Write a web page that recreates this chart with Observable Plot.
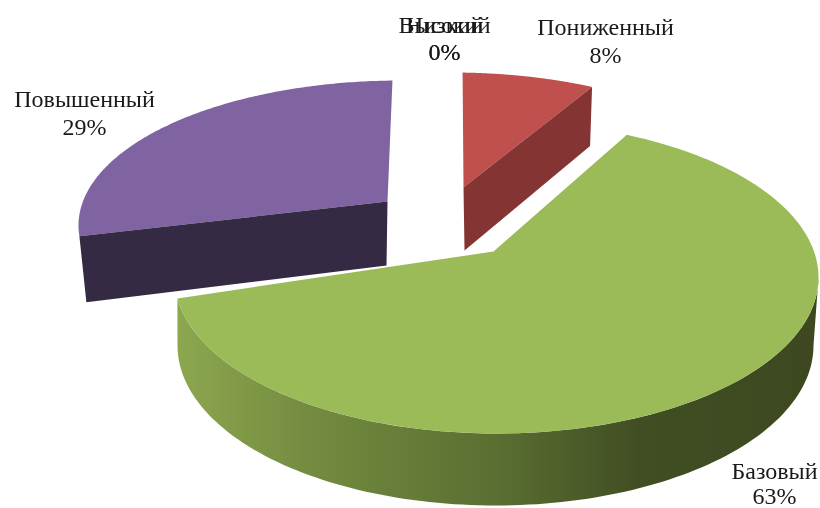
<!DOCTYPE html>
<html><head><meta charset="utf-8">
<script src="https://cdn.jsdelivr.net/npm/d3@7"></script>
<script src="https://cdn.jsdelivr.net/npm/@observablehq/plot@0.6"></script>
<style>html,body{margin:0;padding:0;background:#fff}svg{display:block;filter:blur(0.45px)}</style>
</head><body><div id="chart"></div>
<script>
// Data
const categories = ["Низкий", "Пониженный", "Базовый", "Повышенный", "Высокий"];
const shares = [0, 8, 63, 29, 0];
const percentLabels = ["0%", "8%", "63%", "29%", "0%"];

// Drawing style
const topColors = ["#4f81bd", "#c0504d", "#9bbb59", "#8064a2", "#4bacc6"];
const cutColors = [null, "#843432", null, "#352a44", null];

// Exploded-slice geometry of the tilted disc (one entry per visible slice)
const geometry = {
  "Пониженный": {apex:[463,187], c:[452,205], rx:308, ry:133, aspect:[2.34,2.34], shear:-0.008,
    cut:{edge:"end", apex:[1,63], rim:[-2,59]}},
  "Базовый": {apex:[493,251], c:[496,277], rx:322, ry:156, aspect:[2.08,1.73], shear:0},
  "Повышенный": {apex:[387,201], c:[400,225], rx:322, ry:145, aspect:[2.26,2.26], shear:0.041,
    cut:{edge:"start", apex:[-1,64], rim:[7,66]}}
};
const greenBottom = {c:[495,345], rx:318, ry:160};

// Label placement
const labelX = [444, 605, 774, 84, 444];
const labelY = [25, 27, 471, 99, 25];
const labelY2 = [52, 55, 496, 127, 52];

// Angles from the values
const total = d3.sum(shares);
let acc = 0;
const slices = categories.map((name, i) => {
  const a0 = acc / total * 2 * Math.PI; acc += shares[i];
  return {name, i, a0, a1: acc / total * 2 * Math.PI};
});
function rim(g, a, t) {
  const k = g.aspect[0] + (g.aspect[1] - g.aspect[0]) * t;
  const dx = k * Math.sin(a) + g.shear * Math.cos(a), dy = -Math.cos(a);
  const ox = (g.apex[0] - g.c[0]) / g.rx, oy = (g.apex[1] - g.c[1]) / g.ry;
  const ux = dx / g.rx, uy = dy / g.ry;
  const A = ux*ux + uy*uy, B = 2*(ox*ux + oy*uy), C = ox*ox + oy*oy - 1;
  const s = (-B + Math.sqrt(B*B - 4*A*C)) / (2*A);
  return [g.apex[0] + s*dx, g.apex[1] + s*dy];
}
const toPts = arr => arr.map(([x,y]) => ({x,y}));
function face(s, g) {
  const n = 160, pts = [g.apex];
  for (let j = 0; j <= n; j++) pts.push(rim(g, s.a0 + (s.a1 - s.a0) * j / n, j / n));
  return toPts(pts);
}
function cut(s, g) {
  const end = g.cut.edge === "end";
  const r = rim(g, end ? s.a1 : s.a0, end ? 1 : 0);
  return toPts([g.apex, r, [r[0]+g.cut.rim[0], r[1]+g.cut.rim[1]],
    [g.apex[0]+g.cut.apex[0], g.apex[1]+g.cut.apex[1]]]);
}
const green = slices[2], gg = geometry["Базовый"];
function greenSide() {
  const corner = rim(gg, green.a1, 1);
  const phiC = Math.atan2((corner[1]-gg.c[1])/gg.ry, (corner[0]-gg.c[0])/gg.rx);
  const pts = [], n = 120;
  for (let j = 0; j <= n; j++) { const p = phiC * j / n;
    pts.push([gg.c[0]+gg.rx*Math.cos(p), gg.c[1]+gg.ry*Math.sin(p)]); }
  for (let j = n; j >= 0; j--) { const p = Math.PI * j / n;
    pts.push([greenBottom.c[0]+greenBottom.rx*Math.cos(p), greenBottom.c[1]+greenBottom.ry*Math.sin(p)]); }
  return toPts(pts);
}
const gradient = () => {
  const ns = "http://www.w3.org/2000/svg";
  const defs = document.createElementNS(ns, "defs");
  const lg = document.createElementNS(ns, "linearGradient");
  lg.setAttribute("id", "greenSide");
  lg.setAttribute("x1", "0"); lg.setAttribute("x2", "1");
  lg.setAttribute("y1", "0"); lg.setAttribute("y2", "0");
  [[0,"#8ca74f"],[0.2,"#748c40"],[0.5,"#5a6e31"],[0.72,"#414e23"],[1,"#3d4820"]].forEach(([o,c]) => {
    const st = document.createElementNS(ns, "stop");
    st.setAttribute("offset", o); st.setAttribute("stop-color", c); lg.appendChild(st);
  });
  defs.appendChild(lg);
  return defs;
};

const visible = slices.filter(s => geometry[s.name]);
const marks = [gradient,
  Plot.line(greenSide(), {x:"x", y:"y", fill:"url(#greenSide)", stroke:"none"})];
for (const s of visible) {
  const g = geometry[s.name];
  marks.push(Plot.line(face(s, g), {x:"x", y:"y", fill: topColors[s.i], stroke:"none"}));
  if (g.cut) marks.push(Plot.line(cut(s, g), {x:"x", y:"y", fill: cutColors[s.i], stroke:"none"}));
}
const labelRows = categories.map((name, i) => ({name, pct: percentLabels[i], i}));
marks.push(
  Plot.text(labelRows, {x: d => labelX[d.i], y: d => labelY[d.i], text:"name", fontSize:24,
    fontFamily:"Liberation Serif", fill:"#1a1a1a"}),
  Plot.text(labelRows, {x: d => labelX[d.i], y: d => labelY2[d.i], text:"pct", fontSize:24,
    fontFamily:"Liberation Serif", fill:"#1a1a1a"})
);
const chart = Plot.plot({
  width:820, height:508, margin:0, marginTop:0, marginRight:0, marginBottom:0, marginLeft:0,
  x:{domain:[0,820], range:[0,820], axis:null},
  y:{domain:[0,508], range:[0,508], axis:null},
  style:{background:"#fff"},
  marks
});
document.getElementById("chart").appendChild(chart);
</script></body></html>
